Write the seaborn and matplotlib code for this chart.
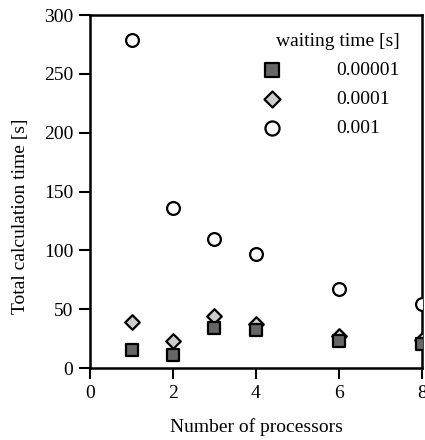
import pandas as pd
import seaborn as sns
import matplotlib.pyplot as plt

# 数据
processors = [1, 2, 3, 4, 6, 8]
time_1e5 = [15, 11, 34, 32, 23, 20]   # waiting time 0.00001 s
time_1e4 = [39, 23, 44, 37, 27, 24]   # waiting time 0.0001 s
time_1e3 = [279, 136, 110, 97, 67, 54]  # waiting time 0.001 s
labels = ['0.00001', '0.0001', '0.001']

sns.set_style('ticks', rc={'axes.edgecolor': 'black', 'xtick.color': 'black',
                           'ytick.color': 'black', 'text.color': 'black',
                           'axes.labelcolor': 'black'})
plt.rcParams['font.family'] = ['Liberation Serif', 'DejaVu Serif']

fig = plt.figure(figsize=(4.25, 4.4), dpi=100)
ax = fig.add_axes([0.2118, 0.1636, 0.781, 0.8023])

# 先画圆，再画菱形，最后画方块（方块盖住菱形）
sns.scatterplot(x=processors, y=time_1e3, marker='o', s=85, color='white',
                edgecolor='black', linewidth=1.6, label=labels[2], ax=ax, zorder=3)
sns.scatterplot(x=processors, y=time_1e4, marker='D', s=55, color='#cccccc',
                edgecolor='black', linewidth=1.6, label=labels[1], ax=ax, zorder=4)
sns.scatterplot(x=processors, y=time_1e5, marker='s', s=85, color='#666666',
                edgecolor='black', linewidth=1.6, label=labels[0], ax=ax, zorder=5)

ax.set_xlim(0, 8)
ax.set_ylim(0, 300)
ax.set_xticks([0, 2, 4, 6, 8])
ax.set_yticks([0, 50, 100, 150, 200, 250, 300])
ax.tick_params(direction='out', length=8, width=1.5, labelsize=14, pad=4)
for sp in ax.spines.values():
    sp.set_linewidth(1.8)
    sp.set_visible(True)

ax.set_xlabel('Number of processors', fontsize=14, labelpad=12)
ax.set_ylabel('Total calculation time [s]', fontsize=14)
ax.yaxis.set_label_coords(-0.185, 0.43)

# 图例顺序：方块、菱形、圆
h, l = ax.get_legend_handles_labels()
order = [2, 1, 0]
leg = ax.legend([h[i] for i in order], [l[i] for i in order],
                title='waiting time [s]', loc='upper right',
                bbox_to_anchor=(0.985, 1.0), frameon=False,
                fontsize=14, title_fontsize=14, handletextpad=2.3,
                labelspacing=0.6, borderaxespad=0.5, alignment='right',
                markerscale=1.1)

fig.savefig('out.png', dpi=100)
